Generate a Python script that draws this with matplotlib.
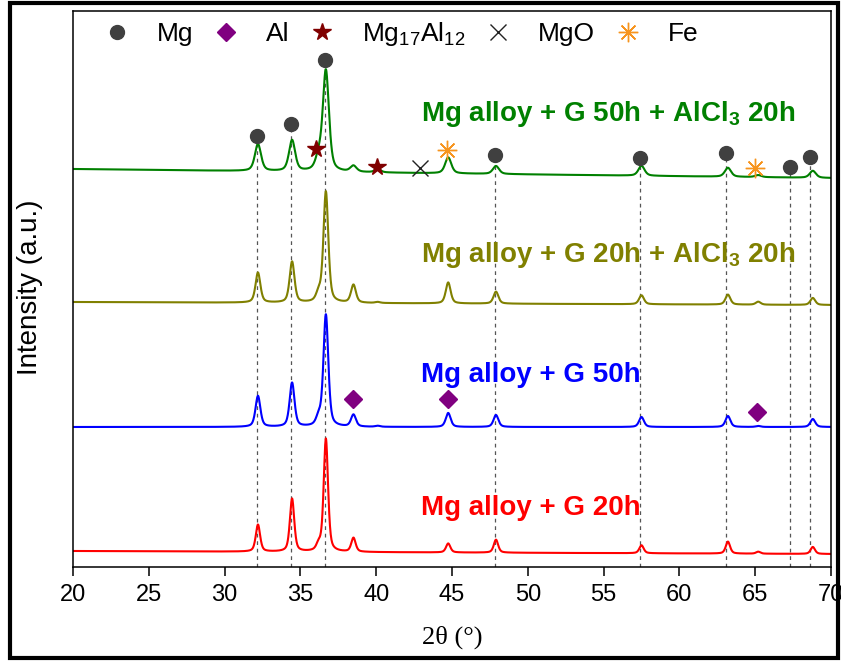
import numpy as np
import matplotlib
matplotlib.use("Agg")
import matplotlib.pyplot as plt
from matplotlib.patches import Rectangle
from matplotlib.lines import Line2D

plt.rcParams['font.family'] = ['Liberation Sans', 'DejaVu Sans']
plt.rcParams['mathtext.fontset'] = 'custom'
plt.rcParams['mathtext.rm'] = 'Liberation Sans'
plt.rcParams['mathtext.bf'] = 'Liberation Sans:bold'

# peak positions (2theta, deg) shared by all patterns
PEAK_POS = [32.2, 34.45, 36.2, 36.68, 38.5, 40.1, 44.75, 47.9, 57.5, 63.2, 65.2, 68.8]

# peak heights (arbitrary units, above background)
PEAKS_RED = [27, 53, 6, 113, 14, 0, 9, 13, 8, 12, 2, 7]
PEAKS_BLUE = [31, 44, 8, 112, 12, 1, 14, 12, 10, 11, 1, 8]
PEAKS_OLIVE = [30, 41, 8, 111, 18, 1, 21, 12, 9, 10, 3, 7]
PEAKS_GREEN = [27, 31, 12, 101, 6, 3, 16, 8, 10, 9, 2, 7]

# background level at 20 and 70 deg (after vertical offset)
BG_RED = [16, 13]
BG_BLUE = [140, 140]
BG_OLIVE = [265, 262]
BG_GREEN = [398, 389]

# peak width (FWHM, deg)
FWHM = [0.34, 0.38, 0.38, 0.48]

LABELS = ["Mg alloy + G 20h", "Mg alloy + G 50h",
          r"Mg alloy + G 20h + AlCl$_\mathbf{3}$ 20h",
          r"Mg alloy + G 50h + AlCl$_\mathbf{3}$ 20h"]
COLORS = ["#FF0000", "#0000FF", "#808000", "#008000"]
LABEL_Y = [52, 185, 305, 446]

# phase markers
MG_POS = [32.15, 34.4, 36.62, 47.85, 57.4, 63.07, 67.3, 68.6]
MG_Y = [431, 443, 507, 412, 409, 414, 400, 410]
AL_POS = [38.47, 44.74, 65.1]
AL_Y = [168, 168, 155]
MG17AL12_POS = [36.03, 40.05]
MG17AL12_Y = [418, 400]
MGO_POS = [42.9]
MGO_Y = [399]
FE_POS = [44.67, 65.0]
FE_Y = [417, 399]


def pattern(x, heights, bg, w):
    y = bg[0] + (bg[1] - bg[0]) * (x - 20) / 50.0
    for p, h in zip(PEAK_POS, heights):
        d = (x - p) / (w / 2)
        y = y + h * (0.5 / (1 + d ** 2) + 0.5 * np.exp(-np.log(2) * d ** 2))
    return y


x = np.linspace(20, 70, 3001)

fig = plt.figure(figsize=(8.41, 6.61), dpi=100)
ax = fig.add_axes([73 / 841, 94 / 661, 758 / 841, 556 / 661])

# dashed guide lines for Mg peaks
for p, yy in zip(MG_POS, MG_Y):
    ax.plot([p, p], [0, yy - 7], ls=(0, (3, 3)), color="#555555", lw=0.9, zorder=1)

allpeaks = [PEAKS_RED, PEAKS_BLUE, PEAKS_OLIVE, PEAKS_GREEN]
allbg = [BG_RED, BG_BLUE, BG_OLIVE, BG_GREEN]
for i in range(4):
    y = pattern(x, allpeaks[i], allbg[i], FWHM[i])
    ax.plot(x, y, color=COLORS[i], lw=1.5, zorder=2)
    ax.text(42.95, LABEL_Y[i], LABELS[i], color=COLORS[i], fontsize=20,
            fontweight='bold', va='baseline', ha='left')

ax.plot(MG_POS, MG_Y, 'o', color="#404040", ms=10, ls='none', zorder=3)
ax.plot(AL_POS, AL_Y, 'D', color="#800080", ms=9, ls='none', zorder=3)
ax.plot(MG17AL12_POS, MG17AL12_Y, '*', color="#800000", ms=13, ls='none', zorder=3)
ax.plot(MGO_POS, MGO_Y, 'x', color="#222222", ms=11, mew=1, ls='none', zorder=3)
ax.plot(FE_POS, FE_Y, marker=(8, 2, 0), color="#F7941D", ms=14, mew=1.0, ls='none', zorder=3)

handles = [
    Line2D([], [], marker='o', color="#404040", ms=10, ls='none'),
    Line2D([], [], marker='D', color="#800080", ms=9, ls='none'),
    Line2D([], [], marker='*', color="#800000", ms=13, ls='none'),
    Line2D([], [], marker='x', color="#222222", ms=11, mew=1, ls='none'),
    Line2D([], [], marker=(8, 2, 0), color="#F7941D", ms=14, mew=1.0, ls='none'),
]
names = ["Mg", "Al", r"Mg$_{17}$Al$_{12}$", "MgO", "Fe"]
ax.legend(handles, names, ncol=5, loc='upper left', bbox_to_anchor=(0.041, 0.984),
          frameon=False, fontsize=19, handlelength=1.0, handletextpad=1.0,
          columnspacing=0.75, borderpad=0, borderaxespad=0)

ax.set_xlim(20, 70)
ax.set_ylim(0, 556)
ax.set_xticks(np.arange(20, 71, 5))
ax.set_yticks([])
ax.tick_params(axis='x', direction='out', length=6.5, width=1.1, labelsize=17, pad=6)
for s in ax.spines.values():
    s.set_linewidth(1.1)

fig.text(452 / 841, 1 - 637 / 661, "2θ (°)", family=['Liberation Serif', 'DejaVu Serif'],
         fontsize=19, ha='center', va='center')
fig.text(30 / 841, 1 - 287 / 661, "Intensity (a.u.)", fontsize=20, rotation=90,
         ha='center', va='center')

fig.patches.append(Rectangle((10 / 841, 3 / 661), 828 / 841, 655 / 661, transform=fig.transFigure,
                             fill=False, edgecolor='black', lw=3))

fig.savefig("out.png", dpi=100)
